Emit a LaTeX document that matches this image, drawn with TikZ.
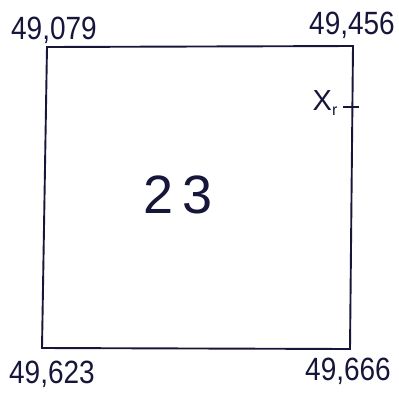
\documentclass[tikz,border=0pt]{standalone}
\usepackage{fontspec}
\setmainfont{Liberation Sans}
\definecolor{ink}{HTML}{16163A}
\begin{document}
\begin{tikzpicture}[x=1pt,y=-1pt,
  edge/.style={draw=ink,line width=1.9pt,line join=miter},
  lbl/.style={text=ink,font=\fontsize{28}{30}\selectfont,inner sep=0pt,yscale=1.15},
  big/.style={text=ink,font=\fontsize{54}{58}\selectfont,inner sep=0pt}]
\useasboundingbox (0,0) rectangle (399,392);
\coordinate (tl) at (47,47);
\coordinate (tr) at (353,46);
\coordinate (br) at (350,349);
\coordinate (bl) at (42,348);
\draw[edge] (tl) -- (tr) -- (br) -- (bl) -- cycle;
\node[lbl] (a) at (54,30) {49,079};
\node[lbl] (b) at (352,25) {49,456};
\node[lbl] (c) at (52,374) {49,623};
\node[lbl] (d) at (348,371) {49,666};
\node[big] (n) at (178,195) {2\,3};
\node[text=ink,font=\fontsize{29}{30}\selectfont,inner sep=0pt] (x) at (325,103) {X\raisebox{-0.35ex}{\fontsize{16}{17}\selectfont r}};
\coordinate (t1) at (343,107);
\coordinate (t2) at (359,107);
\draw[draw=ink,line width=1.5pt] (t1) -- (t2);
\end{tikzpicture}
\end{document}
